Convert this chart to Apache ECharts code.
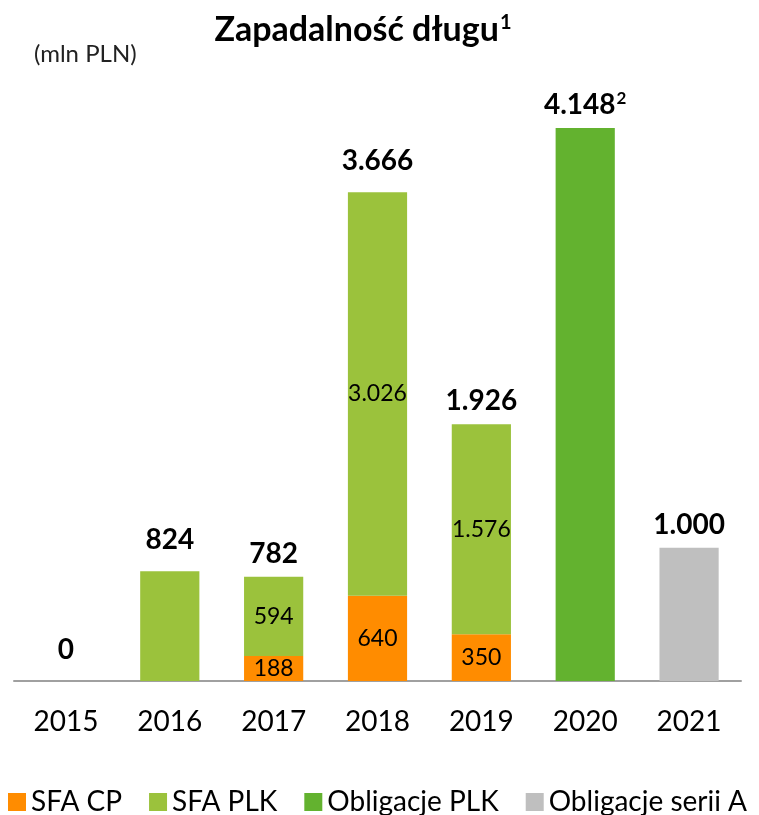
<!DOCTYPE html>
<html>
<head>
<meta charset="utf-8">
<script src="https://cdn.jsdelivr.net/npm/echarts@6/dist/echarts.min.js"></script>
<style>
  html, body { margin: 0; padding: 0; background: #fff; }
  #chart { width: 759px; height: 815px; }
</style>
</head>
<body>
<div id="chart"></div>
<script>
const years = ['2015', '2016', '2017', '2018', '2019', '2020', '2021']
const sfaCp = [0, 0, 188, 640, 350, 0, 0]
const sfaPlk = [0, 824, 594, 3026, 1576, 0, 0]
const oblPlk = [0, 0, 0, 0, 0, 4148, 0]
const oblA = [0, 0, 0, 0, 0, 0, 1000]
const totals = [0, 824, 782, 3666, 1926, 4148, 1000]
const totalSup = ['', '', '', '', '', '2', '']
// labels inside the segments only where the bar is split
const showInner = [false, false, true, true, true, false, false]

const FONT = 'Lato, "Open Sans", sans-serif'

function fmt(v) {
  if (v < 1000) return String(v)
  const t = Math.floor(v / 1000)
  const r = String(v % 1000).padStart(3, '0')
  return t + '.' + r
}

function innerData(arr) {
  return arr.map((v, i) => ({
    value: v,
    label: { show: showInner[i] && v > 0 }
  }))
}

const chart = echarts.init(document.getElementById('chart'))

const innerLabel = {
  position: 'inside',
  fontFamily: FONT,
  fontSize: 23,
  color: '#000',
  formatter: p => fmt(p.value)
}

chart.setOption({
  animation: false,
  title: [
    {
      text: '{t|Zapadalność długu}{s|1}',
      left: 358,
      top: 8,
      textAlign: 'center',
      textStyle: {
        rich: {
          t: { fontFamily: FONT, fontSize: 34, fontWeight: 'bold', color: '#000' },
          s: { fontFamily: FONT, fontSize: 20, fontWeight: 'bold', color: '#000', verticalAlign: 'top', padding: [0, 0, 14, 1] }
        }
      }
    },
    {
      text: '(mln PLN)',
      left: 29,
      top: 37,
      textStyle: { fontFamily: FONT, fontSize: 24, fontWeight: 'normal', color: '#222' }
    }
  ],
  legend: {
    data: ['SFA CP', 'SFA PLK', 'Obligacje PLK', 'Obligacje serii A'],
    left: 8,
    bottom: -1,
    width: 800,
    padding: 0,
    icon: 'rect',
    itemWidth: 18,
    itemHeight: 18,
    itemGap: 27,
    textStyle: { fontFamily: FONT, fontSize: 28, color: '#000' }
  },
  grid: { left: 14, right: 18, top: 128, bottom: 134 },
  xAxis: {
    type: 'category',
    data: years,
    axisLine: { lineStyle: { color: '#a0a0a0', width: 2 } },
    axisTick: { show: false },
    axisLabel: { fontFamily: FONT, fontSize: 28, color: '#000', margin: 27 }
  },
  yAxis: {
    type: 'value',
    min: 0,
    max: 4148,
    show: false,
    splitLine: { show: false }
  },
  series: [
    {
      name: 'SFA CP', type: 'bar', stack: 'a', barWidth: '57%',
      itemStyle: { color: '#ff8c00' },
      label: innerLabel,
      data: innerData(sfaCp)
    },
    {
      name: 'SFA PLK', type: 'bar', stack: 'a',
      itemStyle: { color: '#9bc23c' },
      label: innerLabel,
      data: innerData(sfaPlk)
    },
    {
      name: 'Obligacje PLK', type: 'bar', stack: 'a',
      itemStyle: { color: '#63b22f' },
      data: oblPlk
    },
    {
      name: 'Obligacje serii A', type: 'bar', stack: 'a',
      itemStyle: { color: '#bfbfbf' },
      data: oblA
    },
    {
      name: 'total', type: 'bar', stack: 'b', barGap: '-100%', barWidth: '57%',
      silent: true,
      itemStyle: { color: 'transparent' },
      label: {
        show: true,
        position: 'top',
        distance: 9,
        formatter: p => '{v|' + fmt(p.value) + '}' + (totalSup[p.dataIndex] ? '{s|' + totalSup[p.dataIndex] + '}' : ''),
        rich: {
          v: { fontFamily: FONT, fontSize: 28, fontWeight: 'bold', color: '#000' },
          s: { fontFamily: FONT, fontSize: 17, fontWeight: 'bold', color: '#000', verticalAlign: 'top', padding: [0, 0, 12, 1] }
        }
      },
      data: totals.map((v, i) => ({
        value: v,
        label: { distance: (i === 0 || i === 1 || i === 3) ? 17 : 9 }
      }))
    }
  ]
})
</script>
</body>
</html>
